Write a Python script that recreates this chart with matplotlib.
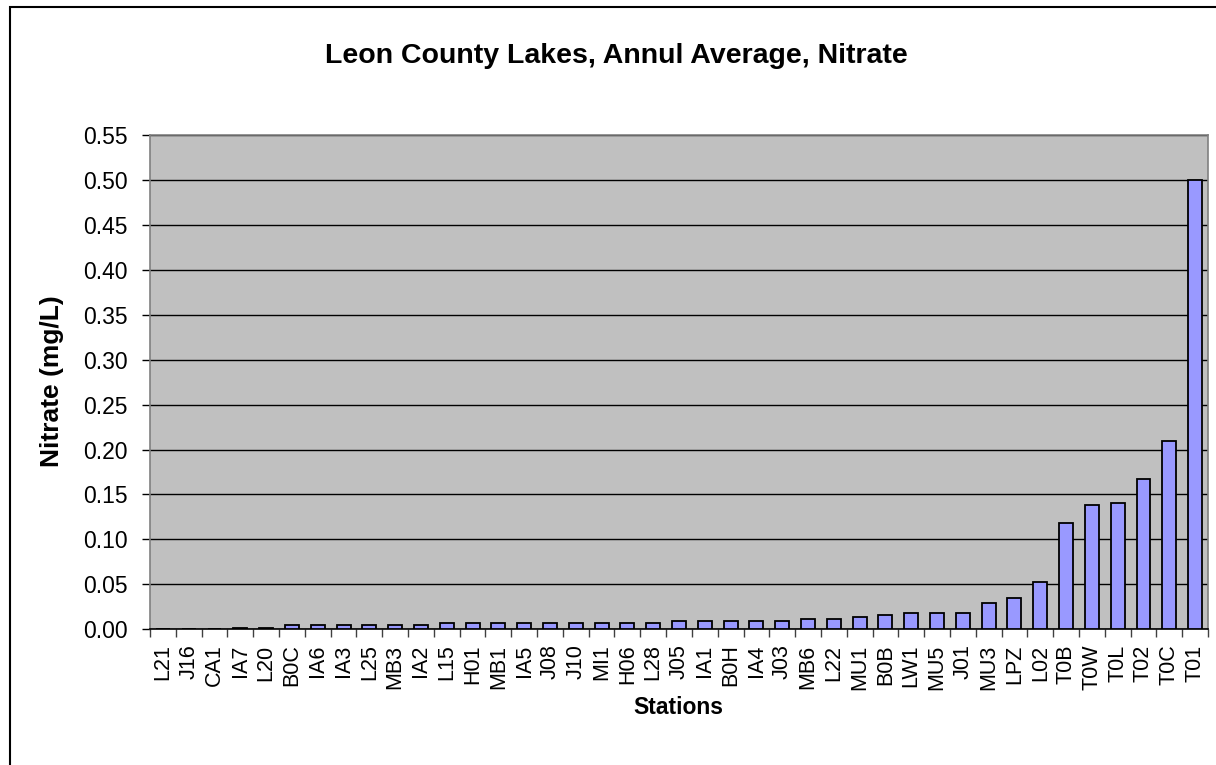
import matplotlib
matplotlib.use("Agg")
import matplotlib.pyplot as plt
from matplotlib.patches import Rectangle
import numpy as np

plt.rcParams['font.family'] = ['Liberation Sans', 'DejaVu Sans']

stations = ["L21", "J16", "CA1", "IA7", "L20", "B0C", "IA6", "IA3", "L25", "MB3",
            "IA2", "L15", "H01", "MB1", "IA5", "J08", "J10", "MI1", "H06", "L28",
            "J05", "IA1", "B0H", "IA4", "J03", "MB6", "L22", "MU1", "B0B", "LW1",
            "MU5", "J01", "MU3", "LPZ", "L02", "T0B", "T0W", "T0L", "T02", "T0C", "T01"]
nitrate = [0.0, 0.0, 0.0, 0.002, 0.002, 0.005, 0.005, 0.005, 0.005, 0.005,
           0.005, 0.007, 0.007, 0.007, 0.007, 0.007, 0.007, 0.007, 0.007, 0.007,
           0.009, 0.009, 0.009, 0.009, 0.009, 0.011, 0.011, 0.014, 0.016, 0.018,
           0.018, 0.018, 0.029, 0.035, 0.053, 0.118, 0.138, 0.140, 0.167, 0.209, 0.500]
yticks = [0.00, 0.05, 0.10, 0.15, 0.20, 0.25, 0.30, 0.35, 0.40, 0.45, 0.50, 0.55]

W, H = 1216, 765
fig = plt.figure(figsize=(W / 100, H / 100), dpi=100)
fig.patch.set_facecolor('white')
ax = fig.add_axes([150 / W, 1 - 629.3 / H, (1208 - 150) / W, (629.3 - 135) / H])
ax.set_facecolor('#C0C0C0')

x = np.arange(len(stations))
ax.bar(x, nitrate, width=0.54, color='#9999FF', edgecolor='black', linewidth=1.3, zorder=3)

ax.set_ylim(0, 0.55)
ax.set_xlim(-0.5, len(stations) - 0.5)
ax.set_yticks(yticks)
ax.set_yticklabels([f"{v:.2f}" for v in yticks], fontsize=16.5)
ax.yaxis.grid(True, color='black', linewidth=1, zorder=1)
ax.set_axisbelow(True)

ax.set_xticks(x)
ax.set_xticklabels(stations, rotation=90, fontsize=15.5)
ax.tick_params(axis='x', which='major', length=0, pad=11)
ax.set_xticks(np.arange(len(stations) + 1) - 0.5, minor=True)
ax.tick_params(axis='x', which='minor', length=6, width=1, color='#404040')
ax.tick_params(axis='y', length=6, width=1, color='black', pad=10)

for s in ['left', 'top', 'right']:
    ax.spines[s].set_color('#808080')
    ax.spines[s].set_linewidth(1.2)
ax.spines['bottom'].set_color('black')
ax.spines['bottom'].set_linewidth(1.2)

fig.text(52 / W, 1 - 381 / H, "Nitrate (mg/L)", fontsize=19, fontweight='bold',
         rotation=90, ha='center', va='center')
fig.text(678 / W, 1 - 707 / H, "Stations", fontsize=16.5, fontweight='bold',
         ha='center', va='center')
fig.text(616 / W, 1 - 63 / H, "Leon County Lakes, Annul Average, Nitrate",
         fontsize=20.5, fontweight='bold', ha='center', va='baseline')

fig.add_artist(Rectangle((10 / W, -0.1), 1.2, 1.1 - 7 / H, fill=False,
                         edgecolor='black', linewidth=1.5, transform=fig.transFigure))

fig.savefig("out.png", dpi=100)
